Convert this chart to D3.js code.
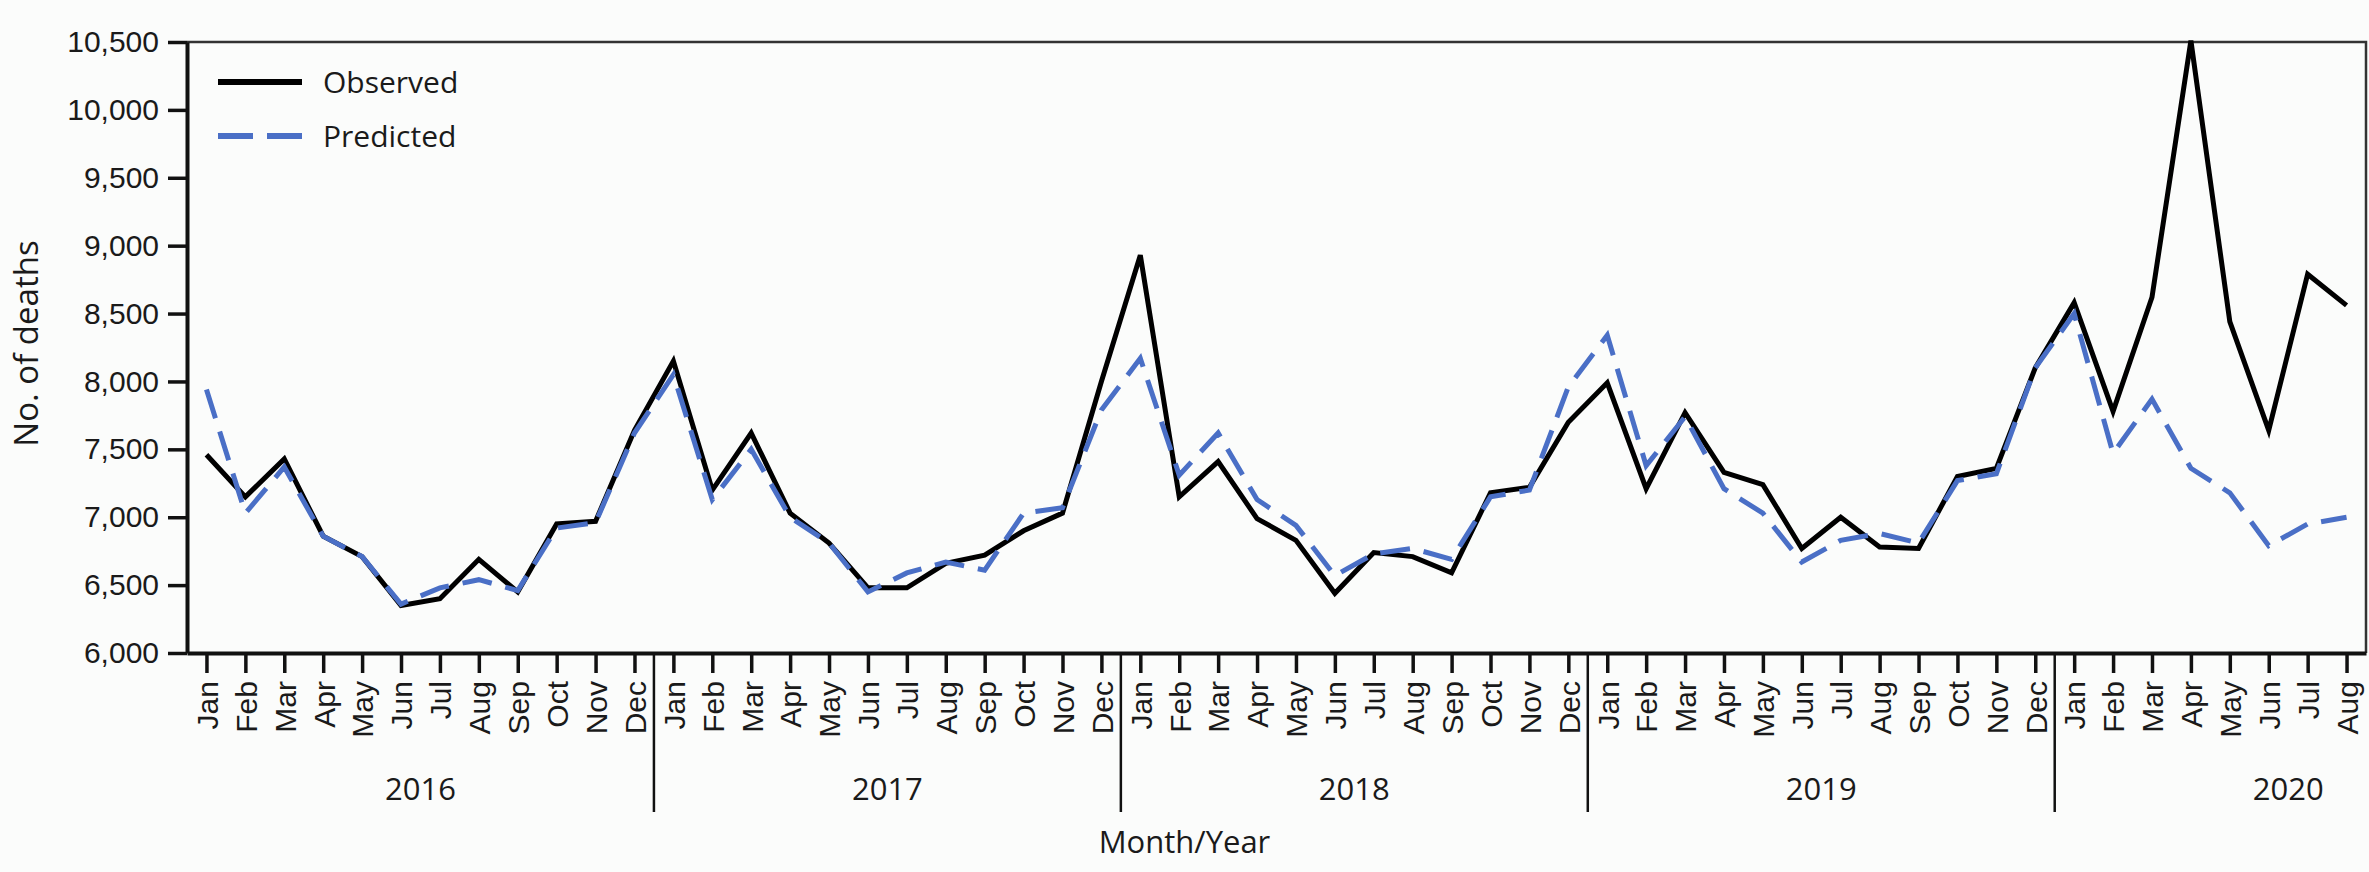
<!doctype html>
<html lang="en">
<head>
    <meta charset="UTF-8">
    <title>Observed and predicted deaths</title>
    <script src="https://d3js.org/d3.v7.min.js"></script>
    <style>
        body { margin: 0; background: #fbfcfb; }
        svg { display: block; font-family: "Open Sans", "Noto Sans", sans-serif; }
        .axis text { fill: #1a1a1a; }
    </style>
</head>
<body>
<div id="chart"></div>
<script>

    // months shown on the axis, per year
    const monthNames = ["Jan", "Feb", "Mar", "Apr", "May", "Jun", "Jul", "Aug", "Sep", "Oct", "Nov", "Dec"];
    const years = [2016, 2017, 2018, 2019, 2020];
    const monthsInYear = [12, 12, 12, 12, 8];

    // y ticks
    const yTicks = [6000, 6500, 7000, 7500, 8000, 8500, 9000, 9500, 10000, 10500];

    // observed deaths, Jan 2016 .. Aug 2020
    const observed = [
        7460, 7150, 7430, 6860, 6710, 6350, 6400, 6690, 6450, 6950, 6970, 7640,
        8150, 7200, 7620, 7030, 6810, 6480, 6480, 6660, 6720, 6900, 7030, 8000,
        8930, 7150, 7410, 6990, 6830, 6440, 6740, 6710, 6590, 7180, 7220, 7700,
        7990, 7210, 7770, 7330, 7240, 6770, 7000, 6780, 6770, 7300, 7360, 8100,
        8580, 7780, 8620, 10510, 8440, 7640, 8790, 8560
    ];

    // predicted deaths, same months
    const predicted = [
        7940, 7030, 7370, 6860, 6710, 6360, 6480, 6540, 6460, 6920, 6960, 7620,
        8050, 7130, 7500, 7000, 6810, 6450, 6590, 6670, 6610, 7030, 7070, 7790,
        8170, 7310, 7620, 7130, 6940, 6570, 6730, 6770, 6690, 7150, 7200, 7960,
        8340, 7380, 7740, 7210, 7030, 6670, 6830, 6880, 6810, 7270, 7320, 8100,
        8500, 7470, 7870, 7360, 7180, 6790, 6950, 7000
    ];

    const width = 2369, height = 872;
    const margin = {top: 42, right: 3, bottom: 219, left: 187};
    const blue = "#4a6fc6";
    const ink = "#1a1a1a";

    //build month keys
    let months = [];
    years.forEach(function (yr, j) {
        for (let m = 0; m < monthsInYear[j]; m++) {
            months.push({key: yr + "-" + m, year: yr, month: m});
        }
    });

    let svg = d3.select("#chart").append("svg")
        .attr("width", width)
        .attr("height", height);

    let x = d3.scalePoint()
        .domain(months.map(function (d) { return d.key; }))
        .range([margin.left, width - margin.right])
        .padding(0.5);

    let y = d3.scaleLinear()
        .domain([6000, 10500])
        .range([height - margin.bottom, margin.top]);

    let step = x.step();
    let bottom = height - margin.bottom;

    //frame: top and right
    svg.append("path")
        .attr("d", "M" + margin.left + "," + margin.top + "H" + (width - margin.right) + "V" + bottom)
        .attr("fill", "none")
        .attr("stroke", "#333")
        .attr("stroke-width", 2.5);

    //x axis
    let xAxis = svg.append("g")
        .attr("class", "axis")
        .attr("transform", "translate(0," + bottom + ")")
        .call(d3.axisBottom(x)
            .tickSize(20)
            .tickSizeOuter(0)
            .tickFormat(function (k) { return monthNames[+k.split("-")[1]]; }));

    xAxis.select(".domain").attr("stroke", "#111").attr("stroke-width", 4);
    xAxis.selectAll(".tick line").attr("stroke", "#111").attr("stroke-width", 3.5);
    xAxis.selectAll(".tick text")
        .attr("transform", "rotate(-90)")
        .attr("x", -28)
        .attr("y", 0)
        .attr("dy", "0.36em")
        .style("text-anchor", "end")
        .style("font-size", "30px");

    //year separators and labels
    let yearStart = 0;
    years.forEach(function (yr, j) {
        let x0 = x(months[yearStart].key);
        if (j > 0) {
            svg.append("line")
                .attr("x1", x0 - step / 2).attr("x2", x0 - step / 2)
                .attr("y1", bottom).attr("y2", 812)
                .attr("stroke", "#111")
                .attr("stroke-width", 2.5);
        }
        svg.append("text")
            .attr("x", x0 + 5.5 * step)
            .attr("y", 800)
            .attr("text-anchor", "middle")
            .attr("fill", ink)
            .style("font-size", "31px")
            .text(yr);
        yearStart += monthsInYear[j];
    });

    //y axis
    let yAxis = svg.append("g")
        .attr("class", "axis")
        .attr("transform", "translate(" + margin.left + ",0)")
        .call(d3.axisLeft(y)
            .tickValues(yTicks)
            .tickSize(19)
            .tickSizeOuter(0)
            .tickPadding(9)
            .tickFormat(d3.format(",")));

    yAxis.select(".domain").attr("stroke", "#111").attr("stroke-width", 4);
    yAxis.selectAll(".tick line").attr("stroke", "#111").attr("stroke-width", 3.5);
    yAxis.selectAll(".tick text").style("font-size", "30px");

    //axis titles
    svg.append("text")
        .attr("transform", "translate(38," + ((margin.top + bottom) / 2 - 4) + ") rotate(-90)")
        .attr("text-anchor", "middle")
        .attr("fill", ink)
        .style("font-size", "33px")
        .text("No. of deaths");

    svg.append("text")
        .attr("x", width / 2)
        .attr("y", 853)
        .attr("text-anchor", "middle")
        .attr("fill", ink)
        .style("font-size", "31px")
        .text("Month/Year");

    //lines
    let line = function (values) {
        return d3.line()
            .x(function (d, i) { return x(months[i].key); })
            .y(function (d) { return y(d); })(values);
    };

    svg.append("path")
        .attr("d", line(observed))
        .attr("fill", "none")
        .attr("stroke", "#000")
        .attr("stroke-width", 5)
        .attr("stroke-linejoin", "miter");

    svg.append("path")
        .attr("d", line(predicted))
        .attr("fill", "none")
        .attr("stroke", blue)
        .attr("stroke-width", 5)
        .attr("stroke-dasharray", "30,14");

    //legend
    let legend = svg.append("g").attr("transform", "translate(218,0)");
    legend.append("line")
        .attr("x1", 0).attr("x2", 84).attr("y1", 82).attr("y2", 82)
        .attr("stroke", "#000").attr("stroke-width", 6);
    legend.append("line")
        .attr("x1", 0).attr("x2", 84).attr("y1", 136).attr("y2", 136)
        .attr("stroke", blue).attr("stroke-width", 6)
        .attr("stroke-dasharray", "35,14");
    legend.append("text")
        .attr("x", 105).attr("y", 82).attr("dy", "0.35em")
        .attr("fill", ink).style("font-size", "30px")
        .text("Observed");
    legend.append("text")
        .attr("x", 105).attr("y", 136).attr("dy", "0.35em")
        .attr("fill", ink).style("font-size", "30px")
        .text("Predicted");

</script>
</body>
</html>
